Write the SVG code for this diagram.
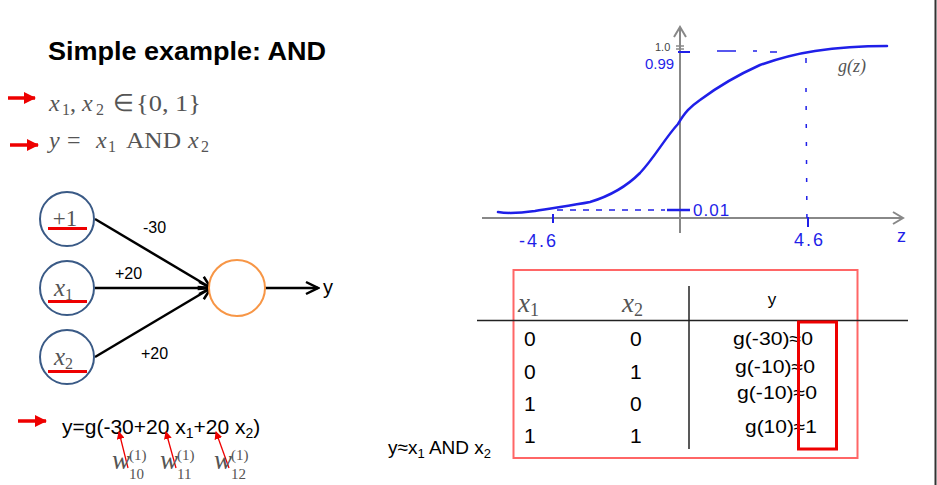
<svg xmlns="http://www.w3.org/2000/svg" width="937" height="485" viewBox="0 0 937 485">
<style>
.sans{font-family:"Liberation Sans",Arial,sans-serif;fill:#000}
.math{font-family:"Liberation Serif","Times New Roman",serif;fill:#555}
.it{font-style:italic}
.hand{font-family:"Liberation Sans",Arial,sans-serif;fill:#1f1fe8}
.inode{fill:#fff;stroke:#3a5a86;stroke-width:2}
.ul{stroke:#e00;stroke-width:3}
.edge{stroke:#000;stroke-width:2.5;fill:none}
.redarrow{stroke:#e00;stroke-width:3.5}
.blue{stroke:#1f1fe8;fill:none;stroke-width:2.5;stroke-linecap:round;stroke-linejoin:round}
.axis{stroke:#888;stroke-width:2;fill:none}
</style>
<defs>
<marker id="ah" markerUnits="userSpaceOnUse" markerWidth="16" markerHeight="16" refX="14" refY="8" orient="auto">
<path d="M2,2 L14,8 L2,14" fill="none" stroke="#000" stroke-width="2.5"/>
</marker>
<marker id="rah" markerUnits="userSpaceOnUse" markerWidth="12" markerHeight="12" refX="11" refY="6" orient="auto">
<path d="M0,0 L12,6 L0,12 Z" fill="#e00"/>
</marker>
<marker id="rsm" markerUnits="userSpaceOnUse" markerWidth="8" markerHeight="8" refX="7" refY="4" orient="auto">
<path d="M0,0 L8,4 L0,8 Z" fill="#e00"/>
</marker>
<marker id="gah" markerUnits="userSpaceOnUse" markerWidth="14" markerHeight="14" refX="12" refY="7" orient="auto">
<path d="M2,1 L12,7 L2,13" fill="none" stroke="#888" stroke-width="2"/>
</marker>
</defs>
<rect width="937" height="485" fill="#fff"/>
<line x1="935.5" y1="0" x2="935.5" y2="485" stroke="#333" stroke-width="2"/>

<!-- Title and statements -->
<text class="sans" x="48" y="60" font-size="25" font-weight="bold" textLength="278" lengthAdjust="spacingAndGlyphs">Simple example: AND</text>
<line class="redarrow" x1="8" y1="98" x2="35" y2="98" marker-end="url(#rah)"/>
<line class="redarrow" x1="10" y1="145" x2="38" y2="145" marker-end="url(#rah)"/>
<g class="math" font-size="24">
<text x="49" y="111" class="it">x</text>
<text x="62" y="115" font-size="16">1</text>
<text x="70" y="111">,</text>
<text x="82" y="111" class="it">x</text>
<text x="96" y="115" font-size="16">2</text>
<text x="113" y="111">∈</text>
<text x="136" y="111" textLength="65" lengthAdjust="spacingAndGlyphs">{0, 1}</text>
<text x="49" y="148" class="it">y</text>
<text x="67" y="148">=</text>
<text x="96" y="148" class="it">x</text>
<text x="108" y="152" font-size="16">1</text>
<text x="126" y="148" textLength="55" lengthAdjust="spacingAndGlyphs">AND</text>
<text x="188" y="148" class="it">x</text>
<text x="201" y="152" font-size="16">2</text>
</g>

<!-- Connectors -->
<g id="connectors">
<line class="edge" x1="95" y1="219" x2="211" y2="288" marker-end="url(#ah)"/>
<line class="edge" x1="95" y1="288" x2="211" y2="288" marker-end="url(#ah)"/>
<line class="edge" x1="95" y1="357" x2="211" y2="288" marker-end="url(#ah)"/>
<line class="edge" x1="265" y1="288" x2="318" y2="288" marker-end="url(#ah)"/>
<text class="sans" x="143" y="233" font-size="16">-30</text>
<text class="sans" x="115" y="279" font-size="16">+20</text>
<text class="sans" x="141" y="359" font-size="16">+20</text>
<text class="sans" x="323" y="294" font-size="20">y</text>
</g>

<g id="n_bias">
<circle class="inode" cx="67" cy="219" r="27"/>
<text class="math" x="65" y="226" font-size="23" text-anchor="middle">+1</text>
<line class="ul" x1="48" y1="228.5" x2="87" y2="228.5"/>
</g>
<g id="n_x1">
<circle class="inode" cx="67" cy="288" r="27"/>
<text class="math" x="54" y="296" font-size="25"><tspan class="it">x</tspan><tspan font-size="16" dy="4">1</tspan></text>
<line class="ul" x1="48" y1="301.5" x2="87" y2="301.5"/>
</g>
<g id="n_x2">
<circle class="inode" cx="67" cy="357" r="27"/>
<text class="math" x="54" y="365" font-size="25"><tspan class="it">x</tspan><tspan font-size="16" dy="4">2</tspan></text>
<line class="ul" x1="48" y1="371.5" x2="87" y2="371.5"/>
</g>
<g id="n_out">
<circle cx="237" cy="288" r="28" fill="#fff" stroke="#f79646" stroke-width="2"/>
</g>

<!-- Formula -->
<line class="redarrow" x1="18" y1="421" x2="46" y2="421" marker-end="url(#rah)"/>
<text class="sans" x="62" y="434" font-size="21">y=g(-30+20 x<tspan font-size="14" dy="4">1</tspan><tspan dy="-4">+20 x</tspan><tspan font-size="14" dy="4">2</tspan><tspan dy="-4">)</tspan></text>
<g stroke="#e00" stroke-width="1.3">
<line x1="128" y1="468" x2="119" y2="432" marker-end="url(#rsm)"/>
<line x1="176" y1="468" x2="166" y2="432" marker-end="url(#rsm)"/>
<line x1="229" y1="468" x2="216" y2="432" marker-end="url(#rsm)"/>
</g>
<g class="math" font-size="27">
<text x="112" y="469" class="it">w</text>
<text x="129" y="460" font-size="15">(1)</text>
<text x="129" y="479" font-size="15">10</text>
<text x="160" y="469" class="it">w</text>
<text x="177" y="460" font-size="15">(1)</text>
<text x="177" y="479" font-size="15">11</text>
<text x="214" y="469" class="it">w</text>
<text x="231" y="460" font-size="15">(1)</text>
<text x="231" y="479" font-size="15">12</text>
</g>
<text class="sans" x="388" y="454" font-size="19">y≈x<tspan font-size="13" dy="4">1</tspan><tspan dy="-4"> AND x</tspan><tspan font-size="13" dy="4">2</tspan></text>

<!-- Sigmoid graph -->
<line class="axis" x1="482" y1="218" x2="903" y2="218" marker-end="url(#gah)"/>
<line class="axis" x1="680" y1="233" x2="680" y2="27" marker-end="url(#gah)"/>
<line x1="676" y1="46" x2="684" y2="46" stroke="#888" stroke-width="1.5"/>
<line x1="676" y1="49" x2="684" y2="49" stroke="#888" stroke-width="1.5"/>
<text x="655" y="51" font-family="Liberation Sans,Arial,sans-serif" font-size="11" fill="#444">1.0</text>
<text class="hand" x="645" y="69" font-size="15">0.99</text>
<text x="838" y="72" font-family="Liberation Serif,serif" font-style="italic" font-size="18" fill="#555">g(z)</text>
<path class="blue" d="M498,212 C510,214 520,213 535,211 C550,208 570,206 590,202 C610,196 625,188 640,173 C655,157 665,138 678,124 C685,112 690,107 700,100 C720,85 740,74 760,65 C780,58 795,54 815,51 C835,48 860,46 887,46"/>
<g stroke="#1f1fe8" stroke-width="1.5" fill="none">
<line x1="678" y1="52" x2="690" y2="52" stroke-width="2"/>
<line x1="717" y1="51" x2="736" y2="51"/>
<line x1="753" y1="51" x2="757" y2="51"/>
<line x1="770" y1="52" x2="777" y2="52"/>
<line x1="806" y1="58" x2="806" y2="70" stroke-dasharray="5 14"/>
<line x1="806" y1="88" x2="807" y2="228" stroke-dasharray="4 14"/>
<line x1="557" y1="210" x2="665" y2="210" stroke-dasharray="6 7"/>
<line x1="667" y1="210" x2="690" y2="210" stroke-width="2.5"/>
<line x1="553" y1="214" x2="553" y2="223" stroke-width="2"/>
<line x1="808" y1="217" x2="808" y2="227" stroke-width="2"/>
</g>
<text class="hand" x="693" y="216" font-size="17" letter-spacing="1">0.01</text>
<text class="hand" x="519" y="247" font-size="18" letter-spacing="2">-4.6</text>
<text class="hand" x="794" y="246" font-size="18" letter-spacing="2">4.6</text>
<text class="hand" x="897" y="242" font-size="18">z</text>

<!-- Table -->
<rect x="513.5" y="270" width="344" height="188" fill="none" stroke="#f66" stroke-width="2"/>
<line x1="477" y1="320.5" x2="908" y2="320.5" stroke="#222" stroke-width="1.5"/>
<line x1="689" y1="286" x2="689" y2="449" stroke="#222" stroke-width="1.5"/>
<text class="math" x="518" y="312" font-size="27"><tspan class="it">x</tspan><tspan font-size="18" dy="4">1</tspan></text>
<text class="math" x="622" y="312" font-size="27"><tspan class="it">x</tspan><tspan font-size="18" dy="4">2</tspan></text>
<text class="sans" x="772" y="305" font-size="17" text-anchor="middle">y</text>
<g class="sans" font-size="21">
<text x="524" y="346">0</text><text x="630" y="346">0</text>
<text x="524" y="379">0</text><text x="630" y="379">1</text>
<text x="524" y="411">1</text><text x="630" y="411">0</text>
<text x="524" y="443">1</text><text x="630" y="443">1</text>
</g>
<g class="sans" font-size="18">
<text x="733" y="345" textLength="80" lengthAdjust="spacingAndGlyphs">g(-30)≈0</text>
<text x="735" y="373" textLength="80" lengthAdjust="spacingAndGlyphs">g(-10)≈0</text>
<text x="737" y="399" textLength="80" lengthAdjust="spacingAndGlyphs">g(-10)≈0</text>
<text x="745" y="433" textLength="72" lengthAdjust="spacingAndGlyphs">g(10)≈1</text>
</g>
<rect x="798.5" y="322" width="38" height="127" fill="none" stroke="#e00" stroke-width="3"/>
</svg>
